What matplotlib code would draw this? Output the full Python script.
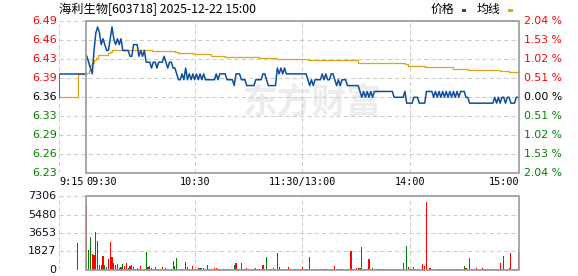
import matplotlib
matplotlib.use('Agg')
import matplotlib.pyplot as plt
from matplotlib.patches import Rectangle
import numpy as np

# ---------------- data ----------------
title = '海利生物[603718] 2025-12-22 15:00'
prev_close = 6.36
price_labels = ['6.49', '6.46', '6.43', '6.39', '6.36', '6.33', '6.29', '6.26', '6.23']
pct_labels = ['2.04 %', '1.53 %', '1.02 %', '0.51 %', '0.00 %', '0.51 %', '1.02 %', '1.53 %', '2.04 %']
vol_labels = ['7306', '5480', '3653', '1827', '0']
vol_max = 7306
time_labels = ['9:15', '09:30', '10:30', '11:30/13:00', '14:00', '15:00']
time_slots = [-15, 0, 60.5, 120.5, 180.5, 241]

# pre-market (call auction) 9:15-9:30, slots relative to 9:30
pre_t = [-15, -15, 0]
pre_price = [6.36, 6.40, 6.40]
pre_avg_t = [-15, -4.5, -4.5, 0]
pre_avg = [6.36, 6.36, 6.40, 6.40]
auction_t = [-4.5]
auction_vol = [2670]

# per-minute price, 241 points (9:30..11:30, 13:01..15:00)
price = [
    6.43, 6.42, 6.41, 6.40, 6.44, 6.47, 6.48, 6.47, 6.45, 6.46,
    6.45, 6.44, 6.44, 6.46, 6.48, 6.46, 6.45, 6.46, 6.45, 6.46,
    6.44, 6.44, 6.44, 6.44, 6.43, 6.43, 6.45, 6.45, 6.45, 6.43,
    6.44, 6.43, 6.44, 6.42, 6.42, 6.42, 6.41, 6.42, 6.42, 6.41,
    6.42, 6.42, 6.42, 6.43, 6.42, 6.41, 6.42, 6.42, 6.41, 6.41,
    6.40, 6.39, 6.39, 6.40, 6.39, 6.41, 6.39, 6.40, 6.39, 6.40,
    6.39, 6.40, 6.39, 6.40, 6.39, 6.40, 6.39, 6.39, 6.39, 6.39,
    6.39, 6.39, 6.40, 6.39, 6.40, 6.40, 6.40, 6.40, 6.39, 6.39,
    6.39, 6.39, 6.38, 6.40, 6.40, 6.40, 6.39, 6.39, 6.39, 6.38,
    6.38, 6.38, 6.38, 6.38, 6.39, 6.39, 6.39, 6.39, 6.40, 6.40,
    6.39, 6.38, 6.38, 6.38, 6.38, 6.38, 6.41, 6.40, 6.41, 6.40,
    6.41, 6.40, 6.40, 6.40, 6.40, 6.40, 6.40, 6.40, 6.40, 6.40,
    6.40, 6.40, 6.40, 6.39, 6.38, 6.39, 6.38, 6.39, 6.39, 6.39,
    6.39, 6.40, 6.39, 6.40, 6.39, 6.39, 6.40, 6.40, 6.39, 6.38,
    6.39, 6.38, 6.39, 6.39, 6.39, 6.38, 6.38, 6.38, 6.38, 6.38,
    6.38, 6.38, 6.37, 6.36, 6.37, 6.36, 6.37, 6.36, 6.37, 6.36,
    6.37, 6.37, 6.37, 6.37, 6.37, 6.37, 6.37, 6.37, 6.37, 6.37,
    6.37, 6.36, 6.36, 6.36, 6.36, 6.36, 6.36, 6.37, 6.35, 6.35,
    6.35, 6.35, 6.36, 6.36, 6.36, 6.35, 6.35, 6.35, 6.35, 6.37,
    6.37, 6.37, 6.37, 6.36, 6.37, 6.36, 6.37, 6.36, 6.37, 6.36,
    6.37, 6.36, 6.37, 6.36, 6.37, 6.36, 6.37, 6.36, 6.37, 6.37,
    6.37, 6.36, 6.36, 6.35, 6.35, 6.35, 6.35, 6.35, 6.35, 6.35,
    6.35, 6.35, 6.35, 6.35, 6.35, 6.35, 6.35, 6.36, 6.35, 6.36,
    6.35, 6.36, 6.36, 6.35, 6.36, 6.36, 6.35, 6.35, 6.35, 6.36,
    6.36,
]

# average price line, read as steps (minute index, value)
avg_t = [0, 1, 2, 3, 4, 5, 6, 12, 13, 14, 36, 49, 51, 59, 69, 77, 87, 96, 105,
         123, 146, 151, 177, 179, 188, 204, 212, 230, 235, 240]
avg_v = [6.401, 6.407, 6.415, 6.418, 6.424, 6.427, 6.433, 6.436, 6.438, 6.441,
         6.439, 6.437, 6.435, 6.434, 6.431, 6.429, 6.428, 6.427, 6.425, 6.424,
         6.423, 6.419, 6.416, 6.413, 6.411, 6.408, 6.407, 6.405, 6.403, 6.401]

volume = [
    6380, 1970, 3270, 1540, 1440, 3770, 2870, 470, 470, 1370,
    470, 270, 1070, 2770, 1270, 670, 470, 570, 170, 270,
    570, 370, 670, 170, 370, 470, 270, 100, 170, 100,
    370, 100, 100, 1770, 270, 370, 170, 100, 270, 100,
    100, 100, 270, 100, 170, 100, 100, 100, 870, 370,
    1200, 100, 100, 100, 100, 770, 270, 100, 100, 370,
    100, 100, 170, 170, 170, 170, 100, 470, 100, 100,
    100, 170, 170, 100, 100, 100, 100, 100, 100, 100,
    100, 100, 470, 670, 100, 100, 670, 100, 100, 170,
    100, 100, 100, 100, 170, 100, 100, 100, 470, 100,
    1270, 100, 100, 100, 170, 100, 1670, 270, 100, 100,
    100, 100, 270, 100, 100, 100, 100, 100, 100, 100,
    270, 100, 100, 100, 1270, 100, 100, 100, 100, 100,
    100, 100, 100, 100, 100, 100, 100, 100, 370, 100,
    100, 100, 100, 100, 100, 100, 100, 1870, 100, 100,
    170, 170, 170, 2270, 100, 100, 100, 1070, 100, 170,
    100, 100, 100, 100, 100, 100, 100, 100, 100, 100,
    100, 100, 100, 100, 100, 100, 670, 100, 2370, 270,
    100, 100, 270, 100, 100, 100, 100, 570, 370, 6780,
    100, 170, 100, 100, 100, 100, 100, 100, 100, 100,
    100, 100, 100, 100, 100, 100, 100, 100, 100, 100,
    370, 170, 100, 1170, 100, 100, 100, 170, 100, 100,
    170, 100, 100, 100, 100, 100, 100, 100, 100, 100,
    670, 100, 1370, 100, 100, 170, 1670, 100, 100, 100,
    1770,
]
vol_dir = ('rggrrrgggr' 'ggrrrggrgr' 'grrgrrrggr' 'rgrgrgrrgr' 'rrrggrrrrg'
           'grgrrrgrrr' 'rgrggrgrrg' 'rrrgrrrrgg' 'gggrggrgrr' 'rgrrrrgrrg'
           'grrrrrrggr' 'rrrgrrrrgr' 'rrrggrrgrr' 'rgrrrgrrrr' 'grrggrrrrg'
           'rrggrrrrrg' 'grgrrrrrrr' 'rgrrrrrrgr' 'rrrrrrrrrr' 'rrrgrrgrgr'
           'grrrgrrrrr' 'grrgrrrrrr' 'rrrrrrrrgr' 'rgrrrrrgrr' 'r')

# ---------------- style ----------------
W, H = 578, 276
RED, GREEN, BLACK = '#ff0000', '#008000', '#000000'
BLUE_LINE, AVG_LINE = '#0d4f9e', '#e0a31a'
GRID, BORDER = '#cccccc', '#999999'
num_font = 'DejaVu Sans'

fig = plt.figure(figsize=(W / 100, H / 100), dpi=100)
fig.patch.set_facecolor('white')

def px_axes(left, top, right, bottom):
    return fig.add_axes([left / W, 1 - bottom / H, (right - left) / W, (bottom - top) / H])

ax = px_axes(59, 21.3, 519, 173.3)
axv = px_axes(59, 196.3, 519, 269.8)

ymin = prev_close * (1 - 0.0204)
ymax = prev_close * (1 + 0.0204)
yt = np.linspace(ymax, ymin, len(price_labels))
vt = np.linspace(vol_max, 0, len(vol_labels))

for a in (ax, axv):
    a.set_xlim(-15, 241)
    a.set_xticks([])
    a.set_yticks([])
    for s in a.spines.values():
        s.set_visible(False)
    a.patch.set_alpha(0)

ax.set_ylim(ymin, ymax)
axv.set_ylim(0, vol_max)

dash = (0, (4, 3))
for y in yt:
    ax.axhline(y, color=GRID, lw=0.75, ls=dash, zorder=1)
for y in vt:
    axv.axhline(y, color=GRID, lw=0.75, ls=dash, zorder=1)
for xv in [-15, 60.5, 120.5, 180.5]:
    ax.axvline(xv, color=GRID, lw=0.75, ls=dash, zorder=1)
    axv.axvline(xv, color=GRID, lw=0.75, ls=dash, zorder=1)

ax.add_patch(Rectangle((0, ymin), 241, ymax - ymin, fill=False, ec=BORDER, lw=1.2,
                       clip_on=False, zorder=5))
axv.add_patch(Rectangle((0, 0), 241, vol_max, fill=False, ec=BORDER, lw=1.2,
                        clip_on=False, zorder=5))

# watermark
ax.text(0.55, 0.47, '东方财富', transform=ax.transAxes, ha='center', va='center',
        fontsize=25, fontweight='bold', color='#ececef', family='Noto Sans CJK SC',
        zorder=0.5)

# lines
xs = np.arange(len(price)) + 0.5
ax.plot(pre_t, pre_price, color=BLUE_LINE, lw=1.1, zorder=4, solid_joinstyle='miter')
ax.plot(pre_avg_t, pre_avg, color=AVG_LINE, lw=0.9, zorder=3)
ax.step(np.array(avg_t) + 0.5, avg_v, where='post', color=AVG_LINE, lw=0.9, zorder=3)
ax.plot(xs, price, color=BLUE_LINE, lw=1.1, zorder=4)

# volume bars
bar_colors = [RED if c == 'r' else GREEN for c in vol_dir]
axv.bar(xs, volume, width=0.62, color=bar_colors, linewidth=0, zorder=3,
        antialiased=False)
axv.bar(auction_t, auction_vol, width=0.62, color=RED, linewidth=0, zorder=3,
        antialiased=False)

# axis labels
n = len(price_labels)
mid = n // 2
for i, (y, lab, pl) in enumerate(zip(yt, price_labels, pct_labels)):
    col = RED if i < mid else (BLACK if i == mid else GREEN)
    ax.text(-0.004, y, lab, transform=ax.get_yaxis_transform(), ha='right', va='center',
            fontsize=8, color=col, family=num_font)
    ax.text(1.011, y, pl, transform=ax.get_yaxis_transform(), ha='left', va='center',
            fontsize=7.8, color=col, family=num_font)
for y, lab in zip(vt, vol_labels):
    axv.text(-0.006, y, lab, transform=axv.get_yaxis_transform(), ha='right', va='center',
             fontsize=8, color='#111122', family=num_font)

aligns = ['left', 'left', 'center', 'center', 'center', 'right']
for t, lab, al in zip(time_slots, time_labels, aligns):
    ax.text(t, -0.057, lab, transform=ax.get_xaxis_transform(), ha=al, va='center',
            fontsize=7.3, color=BLACK, family='DejaVu Sans Mono')

# title and legend
fig.text(59 / W, 1 - 9.5 / H, title, ha='left', va='center', fontsize=8.8,
         family=['Noto Sans CJK SC', 'DejaVu Sans'], color=BLACK)
fig.text(431 / W, 1 - 9.5 / H, '价格', ha='left', va='center', fontsize=8.6,
         family='Noto Sans CJK SC', color=BLACK)
fig.text(477 / W, 1 - 9.5 / H, '均线', ha='left', va='center', fontsize=8.6,
         family='Noto Sans CJK SC', color=BLACK)
fig.add_artist(Rectangle((462 / W, 1 - 12 / H), 4 / W, 3 / H, transform=fig.transFigure,
                         color=BLUE_LINE, lw=0))
fig.add_artist(Rectangle((508 / W, 1 - 12 / H), 5 / W, 3 / H, transform=fig.transFigure,
                         color=AVG_LINE, lw=0))

fig.savefig('out.png', dpi=100, facecolor='white')
